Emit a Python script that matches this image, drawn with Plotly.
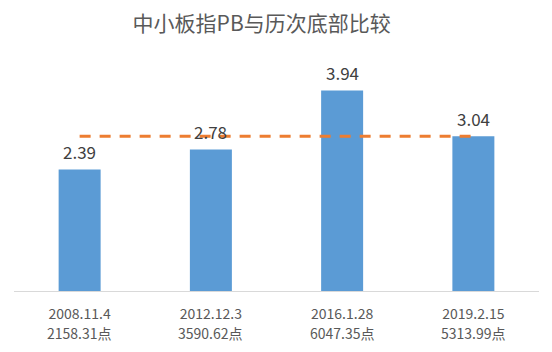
import plotly.graph_objects as go

dates = ["2008.11.4", "2012.12.3", "2016.1.28", "2019.2.15"]
points = ["2158.31点", "3590.62点", "6047.35点", "5313.99点"]
pb = [2.39, 2.78, 3.94, 3.04]
ref_level = 3.04
title = "中小板指PB与历次底部比较"

FONT = "Noto Sans CJK SC"

fig = go.Figure()
fig.add_trace(go.Bar(x=dates, y=pb, marker=dict(color="#5B9BD5", line=dict(width=0)),
                     hoverinfo="skip"))
fig.add_trace(go.Scatter(x=dates, y=[ref_level] * len(dates), mode="lines",
                         line=dict(color="#ED7D31", width=3, dash="11px,9px"),
                         hoverinfo="skip"))

for d, v in zip(dates, pb):
    fig.add_annotation(x=d, y=v, xref="x", yref="y", text=f"{v:.2f}", showarrow=False,
                       yanchor="middle", yshift=18,
                       font=dict(family=FONT, size=17, color="#404040"))
for d, p in zip(dates, points):
    fig.add_annotation(x=d, y=0, xref="x", yref="y", text=p, showarrow=False,
                       yanchor="middle", yshift=-42,
                       font=dict(family=FONT, size=14, color="#595959"))

fig.update_layout(
    width=552, height=352,
    margin=dict(l=14, r=13, t=62, b=61),
    paper_bgcolor="white", plot_bgcolor="white",
    showlegend=False,
    bargap=0.68,
    title=dict(text=title, x=0.474, xanchor="center", y=1 - 24 / 352, yanchor="middle",
               font=dict(family=FONT, size=21, color="#595959")),
    xaxis=dict(type="category", showgrid=False, zeroline=False,
               showline=True, linecolor="#D9D9D9", linewidth=1,
               ticks="outside", ticklen=10, tickcolor="rgba(0,0,0,0)",
               tickfont=dict(family=FONT, size=14, color="#595959")),
    yaxis=dict(range=[0, 4.5], visible=False, showgrid=False, zeroline=False),
)

fig.write_html("out.html")
